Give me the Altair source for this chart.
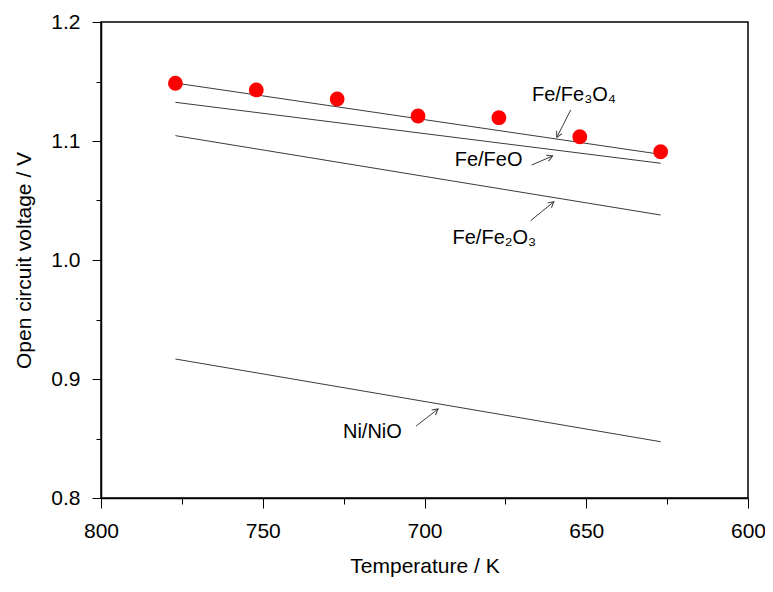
import math
import altair as alt
import pandas as pd

# ---- data ----
temps = [777, 752, 727, 702, 677, 652, 627]
ocv_measured = [1.1485, 1.1429, 1.1353, 1.1210, 1.1196, 1.1036, 1.0910]

line_names = ["Fe/Fe3O4", "Fe/FeO", "Fe/Fe2O3", "Ni/NiO"]
line_t = [777, 627]
line_start = [1.1487, 1.1325, 1.1045, 0.9168]
line_end = [1.0888, 1.0813, 1.0378, 0.8473]

label_text = ["Fe/Fe\u2083O\u2084", "Fe/FeO", "Fe/Fe\u2082O\u2083", "Ni/NiO"]
label_t = [653.8, 680.2, 678.4, 716.1]
label_v = [1.1387, 1.0840, 1.0185, 0.8557]

arrow_t1 = [654.8, 666.9, 667.2, 702.6]
arrow_v1 = [1.1261, 1.0798, 1.0330, 0.8605]
arrow_t2 = [659.1, 660.4, 660.0, 695.8]
arrow_v2 = [1.1031, 1.0874, 1.0490, 0.8748]

x_ticks = [600, 625, 650, 675, 700, 725, 750, 775, 800]
y_ticks = [0.8, 0.85, 0.9, 0.95, 1.0, 1.05, 1.1, 1.15, 1.2]

W, H = 647, 476
FONT = "Liberation Sans"
LINE_COLOR = "#3a3a3a"

pts = pd.DataFrame({"T": temps, "V": ocv_measured})

rows = []
for n, a, b in zip(line_names, line_start, line_end):
    rows.append({"name": n, "T": line_t[0], "V": a})
    rows.append({"name": n, "T": line_t[1], "V": b})
lines_df = pd.DataFrame(rows)

labels_df = pd.DataFrame({"text": label_text, "T": label_t, "V": label_v})

px_per_t = W / 200.0
px_per_v = H / 0.4
angles = []
for t1, v1, t2, v2 in zip(arrow_t1, arrow_v1, arrow_t2, arrow_v2):
    dx = -(t2 - t1) * px_per_t
    dy = -(v2 - v1) * px_per_v
    angles.append(math.degrees(math.atan2(dx, -dy)) % 360)
arrows_df = pd.DataFrame({"T1": arrow_t1, "V1": arrow_v1, "T2": arrow_t2,
                          "V2": arrow_v2, "angle": angles})

xscale = alt.Scale(domain=[600, 800], reverse=True, nice=False, zero=False)
yscale = alt.Scale(domain=[0.8, 1.2], nice=False, zero=False)

x_axis = alt.Axis(
    title="Temperature / K", values=x_ticks,
    labelExpr="datum.value % 50 == 0 ? datum.label : ''",
    tickSize={"condition": {"test": "datum.value % 50 == 0", "value": 10}, "value": 6},
    labelPadding=12, titlePadding=14, format="d", labelFlush=False,
    titleFontSize=21,
)
y_axis = alt.Axis(
    title="Open circuit voltage / V", values=y_ticks,
    labelExpr="abs(datum.value*10 - round(datum.value*10)) < 0.001 ? format(datum.value, '.1f') : ''",
    tickSize={"condition": {"test": "abs(datum.value*10 - round(datum.value*10)) < 0.001",
                            "value": 9}, "value": 5},
    labelPadding=12, titlePadding=16, labelFlush=False,
    titleFontSize=21,
)

base_x = alt.X("T:Q", scale=xscale, axis=x_axis)
base_y = alt.Y("V:Q", scale=yscale, axis=y_axis)

lines = alt.Chart(lines_df).mark_line(color=LINE_COLOR, strokeWidth=1).encode(
    x=base_x, y=base_y, detail="name:N")

points = alt.Chart(pts).mark_circle(color="#ff0000", opacity=1, size=220).encode(
    x=alt.X("T:Q", scale=xscale), y=alt.Y("V:Q", scale=yscale))

labels = alt.Chart(labels_df).mark_text(
    font=FONT, fontSize=20, color="black", align="center", baseline="middle"
).encode(x=alt.X("T:Q", scale=xscale), y=alt.Y("V:Q", scale=yscale), text="text:N")

arrow_lines = alt.Chart(arrows_df).mark_rule(color=LINE_COLOR, strokeWidth=1).encode(
    x=alt.X("T1:Q", scale=xscale), y=alt.Y("V1:Q", scale=yscale),
    x2="T2:Q", y2="V2:Q")

arrow_heads = alt.Chart(arrows_df).mark_point(
    shape="M -0.55 1 L 0 0 L 0.55 1", filled=False, color=LINE_COLOR,
    strokeWidth=1, size=130, opacity=1
).encode(x=alt.X("T2:Q", scale=xscale), y=alt.Y("V2:Q", scale=yscale),
         angle=alt.Angle("angle:Q", scale=None))

chart = alt.layer(lines, arrow_lines, arrow_heads, points, labels).properties(
    width=W, height=H,
    autosize=alt.AutoSizeParams(type="none"),
    padding={"left": 93, "top": 14, "right": 17, "bottom": 86},
).configure_view(stroke="black", strokeWidth=1.5).configure_axis(
    grid=False, domainColor="black", domainWidth=1.5, tickColor="black",
    labelFont=FONT, labelFontSize=21, labelColor="black",
    titleFont=FONT, titleFontWeight="normal", titleColor="black",
)

chart.save("out.html", embed_options={"renderer": "svg", "actions": False})
